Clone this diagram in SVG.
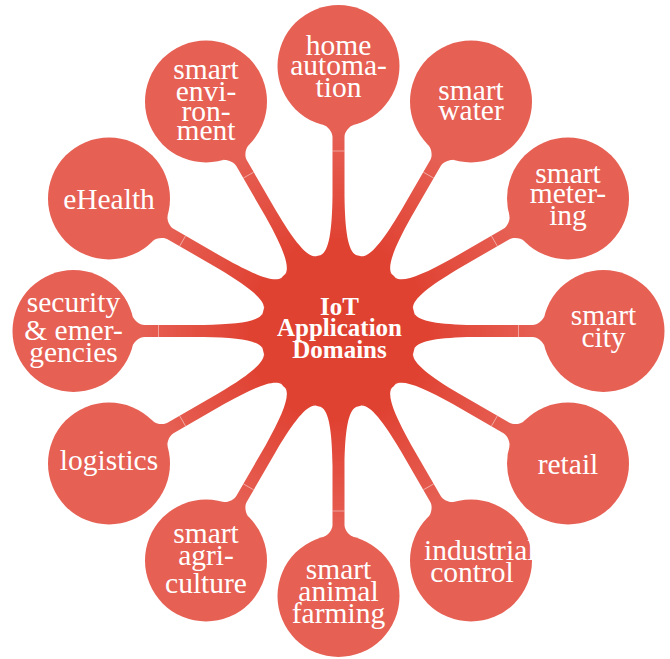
<svg xmlns="http://www.w3.org/2000/svg" xmlns:xlink="http://www.w3.org/1999/xlink" width="670" height="659" viewBox="0 0 670 659">
<style>
.root{fill:#E04232}
.child{fill:#E66054}
.t{font-family:"Liberation Serif","Times New Roman",serif;font-size:29.5px;fill:#fff;text-anchor:middle}
.rt{font-family:"Liberation Serif","Times New Roman",serif;font-size:25px;font-weight:bold;fill:#fff;text-anchor:middle}
.seam{stroke:#fff;stroke-width:0.8;stroke-opacity:0.55}
</style>
<defs>
<linearGradient id="g" gradientUnits="userSpaceOnUse" x1="90" y1="0" x2="200" y2="0">
<stop offset="0" stop-color="#E04232"/>
<stop offset="1" stop-color="#E66054"/>
</linearGradient>
<g id="spoke">
<path fill="url(#g)" d="M76,17.5 C80,9.5 100,6.5 135,6 L194,6 C199,6 204.9,11 205.9,15 L205.9,-15 C204.9,-11 199,-6 194,-6 L135,-6 C100,-6.5 80,-9.5 76,-17.5 Z"/>
<line class="seam" x1="180" y1="-6" x2="180" y2="6"/>
</g>
</defs>
<g id="connectors">
<use xlink:href="#spoke" transform="translate(338.5,331) rotate(-90)"/>
<use xlink:href="#spoke" transform="translate(338.5,331) rotate(-60)"/>
<use xlink:href="#spoke" transform="translate(338.5,331) rotate(-30)"/>
<use xlink:href="#spoke" transform="translate(338.5,331) rotate(0)"/>
<use xlink:href="#spoke" transform="translate(338.5,331) rotate(30)"/>
<use xlink:href="#spoke" transform="translate(338.5,331) rotate(60)"/>
<use xlink:href="#spoke" transform="translate(338.5,331) rotate(90)"/>
<use xlink:href="#spoke" transform="translate(338.5,331) rotate(120)"/>
<use xlink:href="#spoke" transform="translate(338.5,331) rotate(150)"/>
<use xlink:href="#spoke" transform="translate(338.5,331) rotate(180)"/>
<use xlink:href="#spoke" transform="translate(338.5,331) rotate(210)"/>
<use xlink:href="#spoke" transform="translate(338.5,331) rotate(240)"/>
</g>
<g id="root">
<circle class="root" cx="338.5" cy="331" r="78"/>
<text class="rt" x="339.5" y="315">IoT</text>
<text class="rt" x="339.5" y="335.5">Application</text>
<text class="rt" x="339.5" y="358">Domains</text>
</g>
<g id="home-automation">
<circle class="child" cx="338.5" cy="66" r="61"/>
<text class="t" x="338.5" y="55">home</text>
<text class="t" x="338.5" y="75">automa-</text>
<text class="t" x="338.5" y="97">tion</text>
</g>
<g id="smart-water">
<circle class="child" cx="471" cy="101.5" r="61"/>
<text class="t" x="471" y="100">smart</text>
<text class="t" x="471" y="120">water</text>
</g>
<g id="smart-metering">
<circle class="child" cx="568" cy="198.5" r="61"/>
<text class="t" x="568" y="182.8">smart</text>
<text class="t" x="568" y="202.8">meter-</text>
<text class="t" x="568" y="224.8">ing</text>
</g>
<g id="smart-city">
<circle class="child" cx="603.5" cy="331" r="61"/>
<text class="t" x="603.5" y="325">smart</text>
<text class="t" x="603.5" y="347">city</text>
</g>
<g id="retail">
<circle class="child" cx="568" cy="463.5" r="61"/>
<text class="t" x="568" y="473.5">retail</text>
</g>
<g id="industrial-control">
<circle class="child" cx="471" cy="560.5" r="61"/>
<text class="t" x="424" y="559.5" style="text-anchor:start">industrial</text>
<text class="t" x="472" y="581.5">control</text>
</g>
<g id="smart-animal-farming">
<circle class="child" cx="338.5" cy="596" r="61"/>
<text class="t" x="338.5" y="578.5">smart</text>
<text class="t" x="338.5" y="600.5">animal</text>
<text class="t" x="338.5" y="622.5">farming</text>
</g>
<g id="smart-agriculture">
<circle class="child" cx="206" cy="560.5" r="61"/>
<text class="t" x="206" y="543">smart</text>
<text class="t" x="206" y="565">agri-</text>
<text class="t" x="206" y="593">culture</text>
</g>
<g id="logistics">
<circle class="child" cx="109" cy="463.5" r="61"/>
<text class="t" x="109" y="470.3">logistics</text>
</g>
<g id="security-emergencies">
<circle class="child" cx="73.5" cy="331" r="61"/>
<text class="t" x="73.5" y="311.5">security</text>
<text class="t" x="73.5" y="339.5">&amp; emer-</text>
<text class="t" x="73.5" y="361.5">gencies</text>
</g>
<g id="ehealth">
<circle class="child" cx="109" cy="198.5" r="61"/>
<text class="t" x="109" y="208.5">eHealth</text>
</g>
<g id="smart-environment">
<circle class="child" cx="206" cy="101.5" r="61"/>
<text class="t" x="206" y="79">smart</text>
<text class="t" x="206" y="101">envi-</text>
<text class="t" x="206" y="120.5">ron-</text>
<text class="t" x="206" y="140">ment</text>
</g>
</svg>
